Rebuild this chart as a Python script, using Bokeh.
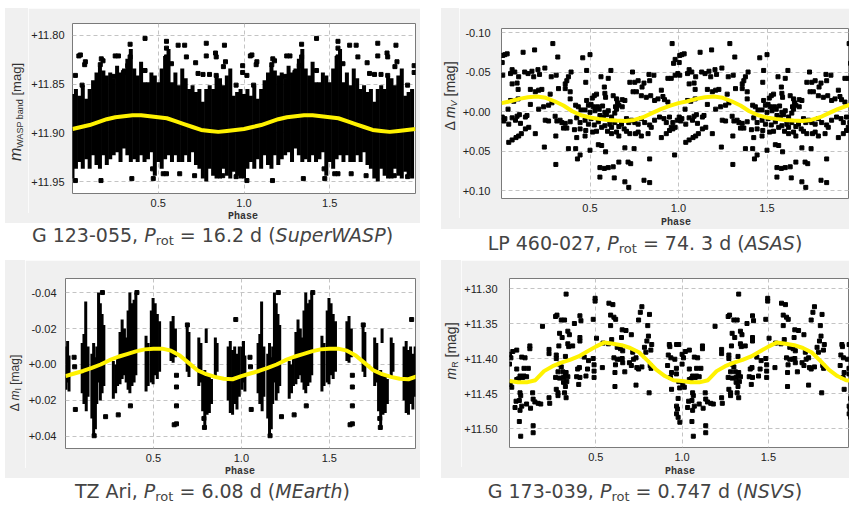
import numpy as np
from bokeh.plotting import figure
from bokeh.models import Range1d, FixedTicker, CustomJSTickFormatter, Div, Spacer
from bokeh.layouts import row, column
from bokeh.embed import file_html
from bokeh.resources import INLINE

# ---------------- data (one phase cycle; the chart shows it twice) ----------------
fit_phase = [0.00, 0.05, 0.10, 0.15, 0.20, 0.25, 0.30, 0.35, 0.40, 0.45,
             0.50, 0.55, 0.60, 0.65, 0.70, 0.75, 0.80, 0.85, 0.90, 0.95]

# Panel 1: G 123-055 (SuperWASP) - dense cloud read as column envelopes + outliers
wasp_col_phase = [0.00, 0.02, 0.04, 0.06, 0.08, 0.10, 0.12, 0.14, 0.16, 0.18,
                  0.20, 0.22, 0.24, 0.26, 0.28, 0.30, 0.32, 0.34, 0.36, 0.38,
                  0.40, 0.42, 0.44, 0.46, 0.48, 0.50, 0.52, 0.54, 0.56, 0.58,
                  0.60, 0.62, 0.64, 0.66, 0.68, 0.70, 0.72, 0.74, 0.76, 0.78,
                  0.80, 0.82, 0.84, 0.86, 0.88, 0.90, 0.92, 0.94, 0.96, 0.98]
wasp_col_top = [11.860, 11.855, 11.862, 11.851, 11.865, 11.855, 11.846, 11.838, 11.831, 11.836,
                11.841, 11.838, 11.844, 11.831, 11.838, 11.834, 11.824, 11.814, 11.834, 11.841,
                11.827, 11.848, 11.848, 11.838, 11.841, 11.848, 11.834, 11.821, 11.814, 11.848,
                11.838, 11.851, 11.834, 11.844, 11.855, 11.851, 11.858, 11.855, 11.868, 11.855,
                11.851, 11.855, 11.841, 11.844, 11.851, 11.841, 11.834, 11.862, 11.858, 11.855]
wasp_col_bottom = [11.947, 11.937, 11.930, 11.937, 11.927, 11.937, 11.923, 11.933, 11.937, 11.923,
                   11.933, 11.927, 11.923, 11.920, 11.930, 11.916, 11.923, 11.930, 11.927, 11.930,
                   11.923, 11.930, 11.927, 11.920, 11.944, 11.930, 11.937, 11.927, 11.923, 11.930,
                   11.923, 11.930, 11.930, 11.923, 11.930, 11.920, 11.933, 11.937, 11.947, 11.950,
                   11.937, 11.944, 11.947, 11.947, 11.937, 11.944, 11.947, 11.940, 11.944, 11.947]
wasp_pt_phase = [0.423, 0.548, 0.336, 0.616, 0.654, 0.780, 0.886, 0.548, 0.046, 0.037,
                 0.075, 0.071, 0.168, 0.178, 0.162, 0.249, 0.268, 0.336, 0.322, 0.548,
                 0.664, 0.718, 0.780, 0.834, 0.838, 0.892, 0.992, 0.992, 0.017, 0.056,
                 0.239, 0.297, 0.423, 0.577, 0.732, 0.761, 0.799, 0.838, 0.880, 0.954,
                 0.017, 0.166, 0.346, 0.467, 0.529, 0.548, 0.471, 0.625, 0.712, 0.876, 0.954]
wasp_pt_mag = [11.803, 11.806, 11.809, 11.810, 11.810, 11.808, 11.810, 11.813, 11.820, 11.821,
               11.827, 11.830, 11.824, 11.826, 11.830, 11.821, 11.821, 11.822, 11.831, 11.822,
               11.822, 11.828, 11.821, 11.818, 11.822, 11.827, 11.831, 11.838, 11.841, 11.851,
               11.842, 11.838, 11.836, 11.829, 11.839, 11.840, 11.840, 11.841, 11.832, 11.851,
               11.949, 11.949, 11.947, 11.937, 11.942, 11.942, 11.947, 11.942, 11.944, 11.944, 11.945]
wasp_fit = [11.896, 11.894, 11.892, 11.889, 11.886, 11.884, 11.883, 11.882, 11.882, 11.883,
            11.884, 11.885, 11.888, 11.891, 11.894, 11.897, 11.898, 11.899, 11.898, 11.897]

# Panel 2: LP 460-027 (ASAS)
asas_phase = [0.290, 0.964, 0.007, 0.019, 0.032, 0.122, 0.187, 0.318, 0.459, 0.500,
              0.004, 0.981, 0.972, 0.060, 0.075, 0.051, 0.007, 0.131, 0.150, 0.172,
              0.206, 0.215, 0.245, 0.097, 0.182, 0.281, 0.309, 0.393, 0.378, 0.369,
              0.360, 0.481, 0.476, 0.562, 0.618, 0.603, 0.740, 0.833, 0.861, 0.837,
              0.725, 0.753, 0.772, 0.805, 0.794, 0.959, 0.940, 0.981, 0.996, 0.060,
              0.088, 0.094, 0.163, 0.191, 0.210, 0.228, 0.322, 0.275, 0.360, 0.388,
              0.388, 0.524, 0.537, 0.513, 0.581, 0.584, 0.588, 0.571, 0.631, 0.650,
              0.655, 0.682, 0.697, 0.644, 0.743, 0.762, 0.790, 0.818, 0.843, 0.865,
              0.884, 0.903, 0.912, 0.921, 0.940, 0.051, 0.069, 0.094, 0.037, 0.163,
              0.210, 0.238, 0.266, 0.285, 0.481, 0.491, 0.506, 0.519, 0.543, 0.552,
              0.472, 0.500, 0.528, 0.584, 0.603, 0.556, 0.575, 0.594, 0.622, 0.640,
              0.650, 0.663, 0.682, 0.434, 0.449, 0.419, 0.004, 0.019, 0.060, 0.088,
              0.101, 0.041, 0.013, 0.079, 0.107, 0.144, 0.135, 0.303, 0.331, 0.341,
              0.313, 0.360, 0.350, 0.369, 0.388, 0.425, 0.444, 0.472, 0.491, 0.506,
              0.524, 0.547, 0.566, 0.584, 0.612, 0.622, 0.640, 0.663, 0.678, 0.693,
              0.706, 0.719, 0.734, 0.753, 0.772, 0.790, 0.809, 0.837, 0.846, 0.865,
              0.893, 0.918, 0.931, 0.949, 0.968, 0.981, 0.959, 0.993, 0.247, 0.266,
              0.041, 0.060, 0.082, 0.097, 0.112, 0.135, 0.154, 0.191, 0.412, 0.444,
              0.476, 0.425, 0.472, 0.515, 0.537, 0.599, 0.622, 0.650, 0.663, 0.706,
              0.725, 0.757, 0.772, 0.790, 0.828, 0.903, 0.931, 0.949, 0.968, 0.307,
              0.242, 0.378, 0.419, 0.444, 0.429, 0.500, 0.547, 0.566, 0.588, 0.697,
              0.749, 0.837, 0.978, 0.307, 0.556, 0.581, 0.603, 0.631, 0.663, 0.715,
              0.730, 0.556, 0.637, 0.697, 0.719, 0.805, 0.837]
asas_dmag = [-0.086, -0.086, -0.071, -0.072, -0.073, -0.075, -0.078, -0.069, -0.068, -0.072,
             -0.062, -0.066, -0.061, -0.053, -0.050, -0.048, -0.046, -0.050, -0.048, -0.051,
             -0.053, -0.047, -0.055, -0.044, -0.044, -0.044, -0.046, -0.050, -0.044, -0.039,
             -0.035, -0.052, -0.037, -0.044, -0.052, -0.042, -0.050, -0.047, -0.046, -0.039,
             -0.037, -0.037, -0.039, -0.036, -0.031, -0.042, -0.042, -0.046, -0.048, -0.035,
             -0.036, -0.028, -0.028, -0.025, -0.027, -0.028, -0.029, -0.022, -0.029, -0.016,
             -0.025, -0.020, -0.022, -0.017, -0.031, -0.023, -0.018, -0.007, -0.020, -0.016,
             -0.011, -0.015, -0.014, -0.006, -0.025, -0.025, -0.020, -0.018, -0.020, -0.014,
             -0.016, -0.027, -0.019, -0.015, -0.012, -0.014, -0.013, -0.016, -0.003, -0.009,
             -0.003, -0.006, -0.008, -0.011, -0.014, -0.008, -0.009, -0.006, -0.006, -0.003,
             -0.002, 0.001, -0.001, 0.001, -0.001, 0.005, 0.007, 0.004, 0.007, 0.002,
             -0.003, -0.008, -0.006, -0.006, -0.002, -0.008, 0.007, 0.009, 0.008, 0.006,
             0.004, 0.016, 0.012, 0.011, 0.015, 0.005, 0.007, 0.006, 0.011, 0.014,
             0.012, 0.015, 0.021, 0.021, 0.013, 0.008, 0.014, 0.011, 0.016, 0.009,
             0.017, 0.013, 0.020, 0.018, 0.016, 0.020, 0.014, 0.019, 0.016, 0.022,
             0.009, 0.014, 0.011, 0.014, 0.016, 0.009, 0.014, 0.017, 0.020, 0.011,
             0.007, 0.009, 0.014, 0.007, 0.014, 0.020, 0.020, 0.011, 0.011, 0.012,
             0.039, 0.036, 0.033, 0.031, 0.028, 0.022, 0.020, 0.028, 0.023, 0.022,
             0.024, 0.033, 0.031, 0.026, 0.025, 0.025, 0.028, 0.026, 0.031, 0.025,
             0.028, 0.028, 0.026, 0.031, 0.028, 0.033, 0.028, 0.024, 0.022, 0.031,
             0.045, 0.047, 0.047, 0.055, 0.060, 0.049, 0.042, 0.043, 0.051, 0.046,
             0.047, 0.060, 0.055, 0.067, 0.071, 0.072, 0.071, 0.070, 0.064, 0.064,
             0.066, 0.083, 0.084, 0.089, 0.096, 0.087, 0.090]
asas_fit = [-0.0106, -0.013, -0.016, -0.018, -0.019, -0.0174, -0.013, -0.0076, -0.0004, 0.0047,
            0.0076, 0.0093, 0.0106, 0.0114, 0.0119, 0.0106, 0.0072, 0.0021, -0.003, -0.0072]

# Panel 3: TZ Ari (MEarth) - nightly streaks (phase, upper end, lower end) + stray points
mearth_streak_phase = [0.003, 0.012, 0.020, 0.095, 0.105, 0.115, 0.118, 0.128,
                       0.150, 0.160, 0.170, 0.178, 0.188, 0.198, 0.208, 0.218,
                       0.272, 0.285, 0.296, 0.310, 0.322, 0.335, 0.345,
                       0.356, 0.366, 0.378, 0.390, 0.400, 0.458, 0.470,
                       0.488, 0.498, 0.510, 0.522, 0.535, 0.600, 0.612, 0.625,
                       0.692, 0.702, 0.758, 0.770, 0.780, 0.792, 0.805, 0.818, 0.830,
                       0.800, 0.852, 0.862, 0.925, 0.937, 0.950, 0.962, 0.975, 0.988]
mearth_streak_top = [-0.010, -0.013, -0.005, -0.012, -0.017, -0.035, -0.008, -0.010,
                     -0.006, -0.012, -0.004, -0.010, -0.040, -0.034, -0.028, -0.022,
                     -0.002, 0.000, -0.004, -0.018, -0.025, -0.020, -0.015,
                     -0.030, -0.040, -0.034, -0.036, -0.040, -0.016, -0.012,
                     -0.030, -0.037, -0.034, -0.028, -0.024, -0.024, -0.027, -0.020,
                     -0.023, -0.018, -0.015, -0.012, 0.004, 0.003, 0.005, 0.006, 0.008,
                     -0.020, -0.015, -0.012, -0.010, -0.013, -0.008, -0.010, -0.006, -0.010]
mearth_streak_bottom = [0.014, 0.010, 0.015, 0.016, 0.022, 0.010, 0.026, 0.018,
                        0.030, 0.040, 0.036, 0.022, 0.010, 0.020, 0.016, 0.012,
                        0.019, 0.016, 0.012, 0.011, 0.008, 0.006, 0.010,
                        0.014, 0.016, 0.012, 0.010, 0.006, 0.015, 0.012,
                        0.010, 0.011, 0.006, 0.008, 0.004, -0.002, -0.001, -0.004,
                        0.004, 0.007, 0.012, 0.010, 0.026, 0.035, 0.028, 0.027, 0.022,
                        -0.012, 0.007, 0.004, 0.020, 0.027, 0.028, 0.022, 0.025, 0.018]
mearth_pt_phase = [0.049, 0.052, 0.056, 0.228, 0.300, 0.369, 0.631, 0.631, 0.631, 0.631,
                   0.618, 0.787, 0.790, 0.968, 0.693, 0.163, 0.210, 0.406]
mearth_pt_dmag = [-0.004, 0.0013, 0.025, 0.029, 0.028, 0.023, 0.006, 0.0125, 0.023, 0.033,
                  0.0335, 0.030, 0.035, -0.025, -0.022, 0.0396, -0.040, -0.040]
mearth_fit = [0.0065, 0.005, 0.0036, 0.0019, 0.0, -0.0024, -0.0043, -0.0058, -0.0073, -0.0084,
              -0.0088, -0.0088, -0.0077, -0.005, -0.0009, 0.0032, 0.0054, 0.0069, 0.0079, 0.0082]

# Panel 4: G 173-039 (NSVS)
nsvs_phase = [0.328, 0.496, 0.496, 0.576, 0.599, 0.767, 0.758, 0.811, 0.586, 0.605,
              0.615, 0.267, 0.275, 0.300, 0.319, 0.408, 0.414, 0.376, 0.485, 0.748,
              0.191, 0.586, 0.653, 0.675, 0.706, 0.649, 0.801, 0.805, 0.796, 0.290,
              0.338, 0.347, 0.305, 0.286, 0.338, 0.343, 0.366, 0.408, 0.408, 0.504,
              0.592, 0.118, 0.118, 0.042, 0.019, 0.229, 0.229, 0.542, 0.573, 0.624,
              0.643, 0.656, 0.782, 0.790, 0.824, 0.819, 0.926, 0.929, 0.968, 0.981,
              0.000, 0.008, 0.000, 0.071, 0.090, 0.271, 0.271, 0.324, 0.290, 0.433,
              0.458, 0.485, 0.490, 0.490, 0.452, 0.443, 0.405, 0.395, 0.389, 0.408,
              0.538, 0.605, 0.624, 0.643, 0.653, 0.656, 0.614, 0.611, 0.668, 0.695,
              0.706, 0.719, 0.733, 0.738, 0.748, 0.714, 0.767, 0.815, 0.820, 0.920,
              0.935, 0.958, 0.916, 0.967, 0.939, 0.933, 0.967, 0.981, 0.986, 0.939,
              0.084, 0.109, 0.042, 0.061, 0.084, 0.076, 0.052, 0.099, 0.042, 0.013,
              0.004, 0.300, 0.309, 0.328, 0.324, 0.313, 0.338, 0.332, 0.313, 0.324,
              0.281, 0.267, 0.290, 0.271, 0.281, 0.281, 0.328, 0.319, 0.401, 0.490,
              0.611, 0.733, 0.809, 0.061, 0.065, 0.057, 0.038, 0.032, 0.071, 0.061,
              0.099, 0.122, 0.137, 0.147, 0.166, 0.181, 0.134, 0.233, 0.229, 0.977,
              0.968, 0.973, 0.968, 0.977, 0.987, 0.057, 0.137, 0.137, 0.065]
nsvs_mag = [11.308, 11.314, 11.318, 11.321, 11.323, 11.326, 11.334, 11.337, 11.338, 11.341,
            11.344, 11.340, 11.338, 11.345, 11.345, 11.339, 11.346, 11.350, 11.344, 11.345,
            11.354, 11.353, 11.359, 11.360, 11.366, 11.370, 11.353, 11.368, 11.375, 11.364,
            11.361, 11.366, 11.370, 11.382, 11.379, 11.383, 11.382, 11.370, 11.375, 11.371,
            11.373, 11.382, 11.386, 11.388, 11.390, 11.387, 11.393, 11.378, 11.379, 11.384,
            11.386, 11.389, 11.384, 11.391, 11.380, 11.388, 11.380, 11.383, 11.380, 11.380,
            11.394, 11.399, 11.408, 11.398, 11.399, 11.395, 11.400, 11.397, 11.408, 11.398,
            11.403, 11.400, 11.409, 11.418, 11.415, 11.425, 11.413, 11.415, 11.426, 11.427,
            11.413, 11.399, 11.401, 11.401, 11.400, 11.406, 11.409, 11.420, 11.419, 11.406,
            11.410, 11.401, 11.399, 11.413, 11.415, 11.391, 11.412, 11.410, 11.414, 11.395,
            11.399, 11.401, 11.410, 11.414, 11.420, 11.427, 11.422, 11.433, 11.442, 11.444,
            11.414, 11.414, 11.415, 11.425, 11.425, 11.427, 11.429, 11.426, 11.430, 11.441,
            11.437, 11.412, 11.419, 11.420, 11.423, 11.427, 11.426, 11.433, 11.434, 11.440,
            11.419, 11.427, 11.428, 11.444, 11.449, 11.453, 11.456, 11.449, 11.437, 11.427,
            11.440, 11.438, 11.449, 11.449, 11.453, 11.460, 11.461, 11.470, 11.468, 11.474,
            11.465, 11.471, 11.458, 11.462, 11.464, 11.465, 11.449, 11.464, 11.456, 11.457,
            11.468, 11.472, 11.479, 11.484, 11.491, 11.490, 11.496, 11.506, 11.511]
nsvs_fit = [11.432, 11.434, 11.434, 11.431, 11.418, 11.411, 11.406, 11.402, 11.397, 11.390,
            11.383, 11.377, 11.379, 11.381, 11.385, 11.391, 11.403, 11.416, 11.425, 11.431]

x_ticks = [0.5, 1.0, 1.5]
wasp_ticks = [11.80, 11.85, 11.90, 11.95]
asas_ticks = [-0.10, -0.05, 0.00, 0.05, 0.10]
mearth_ticks = [-0.04, -0.02, 0.00, 0.02, 0.04]
nsvs_ticks = [11.30, 11.35, 11.40, 11.45, 11.50]

SUB = '<span style="font-size:9px;position:relative;top:2px;line-height:0">{}</span>'
ylabels = [
    '<i style="font-size:16px">m</i>' + SUB.format("WASP band") + ' [mag]',
    '\u0394 <i>m</i>' + SUB.format("<i>V</i>") + ' [mag]',
    '\u0394 <i>m</i>' + SUB.format("I") + ' [mag]',
    '<i>m</i>' + SUB.format("R") + ' [mag]',
]
captions = [
    "G 123-055, <i>P</i>{rot} = 16.2 d (<i>SuperWASP</i>)",
    "LP 460-027, <i>P</i>{rot} = 74. 3 d (<i>ASAS</i>)",
    "TZ Ari, <i>P</i>{rot} = 6.08 d (<i>MEarth</i>)",
    "G 173-039, <i>P</i>{rot} = 0.747 d (<i>NSVS</i>)",
]

# ---------------- helpers ----------------
BG = "#f0f0f0"
YELLOW = "#fff200"
FONT = "Liberation Sans"
Z = (0, 0, 0, 0)


def two_cycles(ph, val):
    ph = np.asarray(ph, dtype=float)
    val = np.asarray(val, dtype=float)
    return np.concatenate([ph, ph + 1.0]), np.concatenate([val, val])


def fit_curve(val):
    x, y = two_cycles(fit_phase, val)
    return np.append(x, 2.0), np.append(y, val[0])


def panel(w, h, bl, br, bt, bb, xend, ybottom, ytop, yticks, ystand):
    p = figure(width=w, height=h, output_backend="svg", toolbar_location=None,
               x_range=Range1d(0, xend), y_range=Range1d(ybottom, ytop),
               min_border_left=bl, min_border_right=br, min_border_top=bt, min_border_bottom=bb,
               margin=Z)
    p.border_fill_color = BG
    p.background_fill_color = "white"
    p.outline_line_color = "#7a7a7a"
    p.outline_line_width = 1
    p.xaxis.ticker = FixedTicker(ticks=x_ticks)
    p.yaxis.ticker = FixedTicker(ticks=yticks)
    p.xaxis.formatter = CustomJSTickFormatter(code="return tick.toFixed(1);")
    p.yaxis.formatter = CustomJSTickFormatter(code="return (tick >= 0 ? '+' : '') + tick.toFixed(2);")
    for ax in (p.xaxis[0], p.yaxis[0]):
        ax.axis_line_color = None
        ax.major_tick_line_color = None
        ax.minor_tick_line_color = None
        ax.major_tick_out = 0
        ax.major_tick_in = 0
        ax.minor_tick_out = 0
        ax.minor_tick_in = 0
        ax.axis_label_standoff = 0
        ax.major_label_text_font = FONT
        ax.major_label_text_font_size = "11px"
        ax.major_label_text_color = "#222222"
    p.yaxis.major_label_standoff = ystand
    p.xaxis.major_label_standoff = 5
    for g in (p.xgrid[0], p.ygrid[0]):
        g.grid_line_color = "#c4c4c4"
        g.grid_line_dash = "4 3"
        g.grid_line_width = 1
    return p


def side_label(w, h, html, cx, cy, size, lh="1"):
    return Div(text=(f'<div style="position:relative;width:{w}px;height:{h}px;background:{BG};overflow:hidden">'
                     f'<div style="position:absolute;left:{cx}px;top:{cy}px;'
                     f'transform:translate(-50%,-50%) rotate(-90deg);white-space:nowrap;text-align:center;'
                     f"font-family:'{FONT}';font-size:{size}px;line-height:{lh};color:#333333\">{html}</div></div>"),
               width=w, height=h, margin=Z)


def bottom_block(w, strip_h, phase_cx, cap_html, cap_h, cap_mt, cap_lh):
    sub = '<span style="font-size:13px;position:relative;top:3px;line-height:0">rot</span>'
    txt = cap_html.replace("{rot}", sub)
    html = (f'<div style="position:relative;width:{w}px;height:{strip_h}px;background:{BG}">'
            f'<div style="position:absolute;left:{phase_cx}px;top:-1px;transform:translateX(-50%);'
            f"font-family:'Liberation Mono';font-weight:bold;font-size:10px;line-height:{strip_h}px;"
            f'color:#333333">Phase</div></div>'
            f'<div style="width:{w}px;height:{cap_h}px">'
            f"<div style=\"padding-top:{cap_mt}px;text-align:center;font-family:'DejaVu Sans';font-size:19px;"
            f'line-height:{cap_lh}px;color:#444444;white-space:nowrap">{txt}</div></div>')
    return Div(text=html, width=w, height=strip_h + cap_h, margin=Z)


# ---------------- panel 1 ----------------
p1 = panel(392, 205, 44, 5, 15, 20, 2.0, 11.9623, 11.7877, wasp_ticks, 8)
cx, ct = two_cycles(wasp_col_phase, wasp_col_top)
_, cb = two_cycles(wasp_col_phase, wasp_col_bottom)
p1.segment(x0=cx, y0=ct, x1=cx, y1=cb, line_color="black", line_width=4)
px, py = two_cycles(wasp_pt_phase, wasp_pt_mag)
p1.scatter(px, py, marker="square", size=4, color="black")
fx, fy = fit_curve(wasp_fit)
p1.line(fx, fy, line_color=YELLOW, line_width=4)

# ---------------- panel 2 ----------------
p2 = panel(390, 210, 40, 0, 20, 20, 1.966, 0.1101, -0.1051, asas_ticks, 11)
px, py = two_cycles(asas_phase, asas_dmag)
p2.scatter(px, py, marker="square", size=4, color="black")
fx, fy = fit_curve(asas_fit)
p2.line(fx, fy, line_color=YELLOW, line_width=4)

# ---------------- panel 3 ----------------
p3 = panel(395, 208, 38, 5, 18, 20, 1.99, 0.0467, -0.0478, mearth_ticks, 9)
sx, st = two_cycles(mearth_streak_phase, mearth_streak_top)
_, sb = two_cycles(mearth_streak_phase, mearth_streak_bottom)
p3.segment(x0=sx, y0=st, x1=sx, y1=sb, line_color="black", line_width=3)
px, py = two_cycles(mearth_pt_phase, mearth_pt_dmag)
p3.scatter(px, py, marker="square", size=4, color="black")
fx, fy = fit_curve(mearth_fit)
p3.line(fx, fy, line_color=YELLOW, line_width=4)

# ---------------- panel 4 ----------------
p4 = panel(388, 207, 47, 0, 18, 20, 1.97, 11.5271, 11.2857, nsvs_ticks, 12)
px, py = two_cycles(nsvs_phase, nsvs_mag)
p4.scatter(px, py, marker="square", size=4, color="black")
fx, fy = fit_curve(nsvs_fit)
p4.line(fx, fy, line_color=YELLOW, line_width=4)

# ---------------- layout ----------------
c1 = column(row(side_label(23, 205, ylabels[0], 11, 104, 13), p1, margin=Z),
            bottom_block(415, 10, 238, captions[0], 37, 2, 20), margin=Z)
c2 = column(row(side_label(18, 210, ylabels[1], 9, 88, 14), p2, margin=Z),
            bottom_block(408, 11, 235, captions[1], 31, 4, 20), margin=Z)
c3 = column(row(side_label(20, 208, ylabels[2], 10, 123, 12), p3, margin=Z),
            bottom_block(415, 10, 235, captions[2], 25, 3, 20), margin=Z)
c4 = column(row(side_label(20, 207, ylabels[3], 10, 91, 14), p4, margin=Z),
            bottom_block(408, 11, 239, captions[3], 25, 3, 20), margin=Z)
layout = column(Spacer(width=10, height=8, margin=Z),
                row(Spacer(width=5, height=10, margin=Z), c1, Spacer(width=21, height=10, margin=Z), c2, margin=Z),
                row(Spacer(width=5, height=10, margin=Z), c3, Spacer(width=21, height=10, margin=Z), c4, margin=Z),
                margin=Z)

open("out.html", "w").write(file_html(layout, INLINE))
